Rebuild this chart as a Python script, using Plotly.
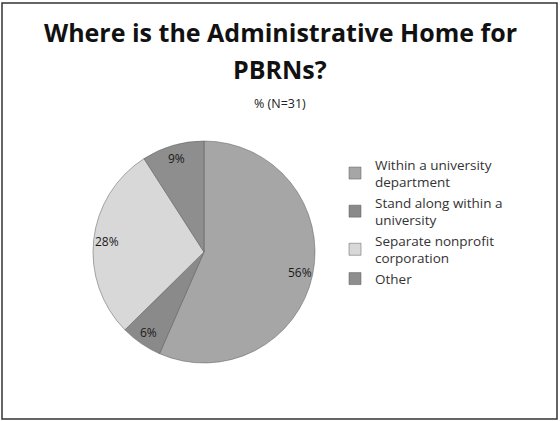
import math
import plotly.graph_objects as go

W, H = 560, 421

categories = ["Within a university<br>department",
              "Stand along within a<br>university",
              "Separate nonprofit<br>corporation",
              "Other"]
values = [56, 6, 28, 9]
labels_text = ["56%", "6%", "28%", "9%"]
colors = ["#a6a6a6", "#8a8a8a", "#d8d8d8", "#8e8e8e"]

FONT = "Open Sans, Lato, sans-serif"
dom_x = [93 / W, 315 / W]
dom_y = [1 - 363 / H, 1 - 141 / H]

fig = go.Figure()
fig.add_trace(go.Pie(
    labels=categories,
    values=values,
    textinfo="none",
    sort=False,
    direction="clockwise",
    rotation=0,
    marker=dict(colors=colors, line=dict(color="#5a5a5a", width=0.5)),
    domain=dict(x=dom_x, y=dom_y),
    hoverinfo="skip",
))

# hidden square axes over the pie, used to place labels near the rim
fig.update_layout(
    xaxis=dict(domain=dom_x, range=[-1, 1], visible=False, fixedrange=True),
    yaxis=dict(domain=dom_y, range=[-1, 1], visible=False, fixedrange=True),
)

total = sum(values)
annotations = []
cum = 0.0
label_r = 0.88
for v, t in zip(values, labels_text):
    mid = (cum + v / 2) / total * 2 * math.pi
    cum += v
    annotations.append(dict(
        text=t, x=label_r * math.sin(mid), y=label_r * math.cos(mid),
        xref="x", yref="y", showarrow=False,
        xanchor="center", yanchor="middle",
        font=dict(size=12, color="#1a1a1a", family=FONT),
    ))

annotations += [
    dict(text="<b>Where is the Administrative Home for</b>",
         x=0.5, y=1 - 32 / H, xref="paper", yref="paper", showarrow=False,
         xanchor="center", yanchor="middle",
         font=dict(size=25, color="#111111", family=FONT)),
    dict(text="<b>PBRNs?</b>",
         x=0.5, y=1 - 69 / H, xref="paper", yref="paper", showarrow=False,
         xanchor="center", yanchor="middle",
         font=dict(size=25, color="#111111", family=FONT)),
    dict(text="% (N=31)", x=0.5, y=1 - 104 / H, xref="paper", yref="paper",
         showarrow=False, font=dict(size=12.5, color="#222222", family=FONT),
         xanchor="center", yanchor="middle"),
]

fig.update_layout(
    width=W, height=H,
    margin=dict(l=0, r=0, t=0, b=0),
    paper_bgcolor="white",
    plot_bgcolor="rgba(0,0,0,0)",
    font=dict(family=FONT, color="#222222"),
    legend=dict(
        x=335 / W, xanchor="left",
        y=1 - 149 / H, yanchor="top",
        font=dict(size=13.5, color="#333333", family=FONT),
        itemwidth=30,
        bgcolor="rgba(0,0,0,0)",
    ),
    showlegend=True,
    annotations=annotations,
    shapes=[dict(
        type="rect", xref="paper", yref="paper",
        x0=2 / W, x1=557 / W, y0=1 - 419 / H, y1=1 - 3 / H,
        line=dict(color="#333333", width=1.5),
    )],
)

fig.write_html("out.html", config={"displayModeBar": False},
               post_script="document.body.style.margin='0';")
